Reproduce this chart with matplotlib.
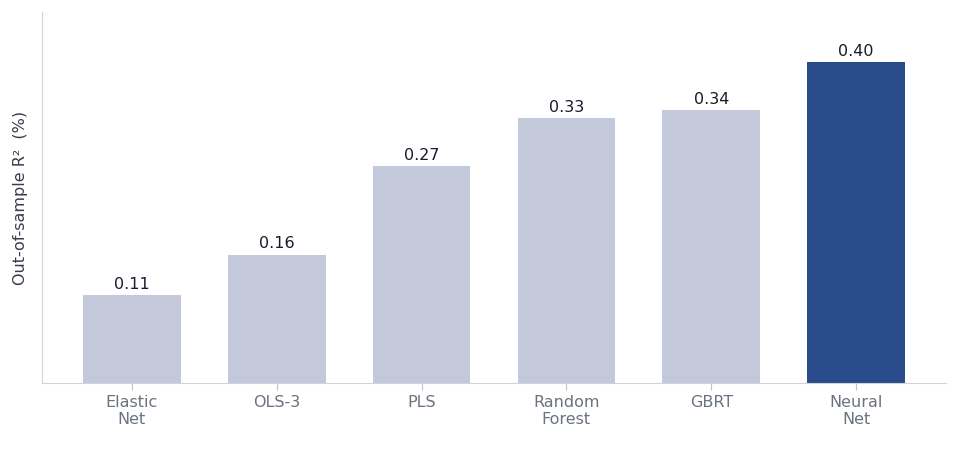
import matplotlib
matplotlib.use("Agg")
import matplotlib.pyplot as plt

categories = ["Elastic\nNet", "OLS-3", "PLS", "Random\nForest", "GBRT", "Neural\nNet"]
values = [0.11, 0.16, 0.27, 0.33, 0.34, 0.40]
labels = ["0.11", "0.16", "0.27", "0.33", "0.34", "0.40"]
colors = ["#C3C9DB"] * 5 + ["#2A4C8B"]

fig = plt.figure(figsize=(9.6, 4.55), dpi=100)
ax = fig.add_axes([42/960, 1 - 383/455, (946-42)/960, (383-12)/455])
x = list(range(len(categories)))
bars = ax.bar(x, values, width=0.675, color=colors)
for b, lab in zip(bars, labels):
    ax.text(b.get_x() + b.get_width()/2, b.get_height() + 0.004, lab,
            ha="center", va="bottom", fontsize=11.5, color="#1a1a2e")
ax.set_xlim(-0.62, 5.62)
ax.set_ylim(0, 0.4626)
ax.set_xticks(x)
ax.set_xticklabels(categories, fontsize=11.5, color="#6B7280")
ax.set_yticks([])
ax.set_ylabel("Out-of-sample R²  (%)", fontsize=11.5, color="#3a3a4a", labelpad=10)
for s in ["top", "right"]:
    ax.spines[s].set_visible(False)
for s in ["left", "bottom"]:
    ax.spines[s].set_color("#D0D3DE")
ax.tick_params(axis="x", colors="#C0C4D0", labelcolor="#6B7280", length=5)
fig.savefig("out.png", dpi=100)
